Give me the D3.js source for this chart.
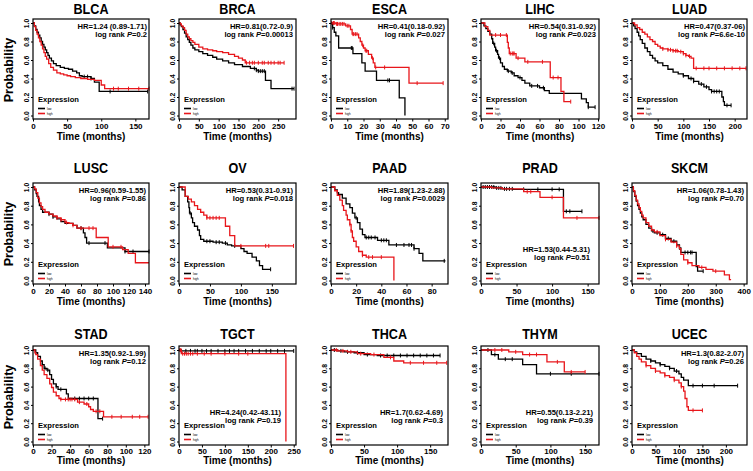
<!DOCTYPE html>
<html><head><meta charset="utf-8">
<script src="https://cdn.jsdelivr.net/npm/d3@7"></script>
<style>
html,body{margin:0;padding:0;background:#fff;}
svg text{font-family:"Liberation Sans",Arial,sans-serif;font-weight:bold;fill:#000;}
</style></head><body>
<svg id="c" width="753" height="471"></svg>
<script>
// ---------- DATA ----------
const names = ["BLCA","BRCA","ESCA","LIHC","LUAD","LUSC","OV","PAAD","PRAD","SKCM","STAD","TGCT","THCA","THYM","UCEC"];
const xMaxes = [170,295,72,121,224,145,189,93,166,412,125,255,177,170,245];
const xTickSets = [
  [0,50,100,150],[0,50,100,150,200,250],[0,10,20,30,40,50,60,70],[0,20,40,60,80,100,120],[0,50,100,150,200],
  [0,20,40,60,80,100,120,140],[0,50,100,150],[0,20,40,60,80],[0,50,100,150],[0,100,200,300,400],
  [0,20,40,60,80,100,120],[0,50,100,150,200,250],[0,50,100,150],[0,50,100,150],[0,50,100,150,200]];
const yTicks = [0,0.2,0.4,0.6,0.8,1.0];
const hrTexts = ["HR=1.24 (0.89-1.71)","HR=0.81(0.72-0.9)","HR=0.41(0.18-0.92)","HR=0.54(0.31-0.92)","HR=0.47(0.37-06)",
  "HR=0.96(0.59-1.55)","HR=0.53(0.31-0.91)","HR=1.89(1.23-2.88)","HR=1.53(0.44-5.31)","HR=1.06(0.78-1.43)",
  "HR=1.35(0.92-1.99)","HR=4.24(0.42-43.11)","HR=1.7(0.62-4.69)","HR=0.55(0.13-2.21)","HR=1.3(0.82-2.07)"];
const pTexts = ["0.2","0.00013","0.027","0.023","6.6e-10","0.86","0.018","0.0029","0.51","0.70","0.12","0.19","0.3","0.39","0.26"];
const hrAtBottom = [false,false,false,false,false,false,false,false,true,false,false,true,true,true,false];

// Kaplan-Meier curves: [time, survival] step points; censor times
const BLCA_low = [[0,1],[2,0.97],[4,0.93],[6,0.9],[8,0.87],[10,0.84],[12,0.8],[14,0.77],[16,0.74],[18,0.71],[20,0.68],[22,0.65],[24,0.62],[27,0.59],[30,0.56],[34,0.54],[40,0.52],[46,0.51],[52,0.5],[58,0.48],[64,0.46],[68,0.43],[72,0.42],[85,0.4],[90,0.36],[97,0.26],[168,0.26]];
const BLCA_high = [[0,1],[2,0.96],[4,0.92],[6,0.88],[8,0.84],[10,0.8],[12,0.76],[14,0.72],[16,0.68],[18,0.64],[20,0.61],[23,0.56],[26,0.52],[30,0.49],[35,0.46],[40,0.45],[45,0.44],[50,0.43],[55,0.42],[62,0.41],[70,0.4],[80,0.39],[90,0.38],[100,0.33],[105,0.29],[170,0.29]];
const BLCA_lowC = [75,80,85,113,168];
const BLCA_highC = [118,125,140,155,170];

const BRCA_low = [[0,1],[3,0.98],[6,0.96],[10,0.93],[14,0.89],[18,0.85],[22,0.82],[26,0.79],[30,0.76],[35,0.73],[40,0.71],[50,0.69],[60,0.67],[72,0.65],[85,0.63],[95,0.61],[110,0.59],[125,0.57],[140,0.55],[160,0.53],[180,0.51],[195,0.49],[200,0.48],[218,0.38],[232,0.29],[290,0.29]];
const BRCA_high = [[0,1],[3,0.99],[6,0.97],[10,0.95],[14,0.92],[18,0.88],[22,0.85],[26,0.83],[30,0.81],[35,0.79],[40,0.77],[50,0.74],[60,0.72],[72,0.71],[85,0.7],[95,0.69],[110,0.68],[125,0.66],[140,0.64],[150,0.62],[160,0.6],[167,0.57],[265,0.57]];
const BRCA_lowC = [190,195,200,205,210,215,285,290];
const BRCA_highC = [170,178,185,190,200,210,215,225,232,240,250,255,265];

const ESCA_low = [[0,1],[1,0.95],[2,0.9],[3,0.86],[4.7,0.73],[13.5,0.67],[19,0.57],[21,0.48],[28,0.38],[42,0.19],[45.5,0]];
const ESCA_high = [[0,1],[3,0.99],[9,0.97],[12,0.93],[13,0.88],[17,0.84],[18,0.8],[19,0.76],[20,0.73],[21,0.7],[23,0.66],[25,0.62],[26,0.57],[27,0.52],[48,0.35],[69,0.35]];
const ESCA_lowC = [1,12.5,13,35,36];
const ESCA_highC = [0.5,1.5,2,3.5,4,5,6,7,8,10,11,13.5,14,15,16,19.5,21.5,22,25.5,27.5,33,53,69];

const LIHC_low = [[0,1],[3,0.97],[5,0.94],[7,0.91],[9,0.88],[11,0.83],[12,0.78],[14,0.74],[15,0.7],[17,0.66],[18,0.62],[20,0.57],[22,0.53],[24,0.5],[27,0.48],[31,0.46],[34,0.43],[38,0.41],[42,0.38],[45,0.35],[50,0.32],[60,0.3],[65,0.27],[70,0.24],[103,0.18],[108,0.14],[110,0.09],[117,0.09]];
const LIHC_high = [[0,1],[4,0.96],[7,0.92],[9,0.87],[27,0.79],[28,0.73],[29,0.67],[36,0.62],[45,0.58],[71,0.41],[82,0.26],[85,0.15],[92,0.15]];
const LIHC_lowC = [13,16,19,28,32,40,52,58,64,110,117];
const LIHC_highC = [15,20,26,30,32,33,34,38,48,63,74,79,92];

const LUAD_low = [[0,1],[3,0.97],[6,0.94],[10,0.9],[13,0.86],[16,0.82],[20,0.78],[25,0.73],[30,0.69],[35,0.65],[40,0.62],[45,0.59],[50,0.57],[60,0.54],[70,0.5],[80,0.47],[90,0.45],[100,0.43],[110,0.4],[120,0.37],[130,0.34],[140,0.31],[150,0.28],[155,0.26],[175,0.2],[178,0.15],[180,0.11],[193,0.11]];
const LUAD_high = [[0,1],[5,0.98],[10,0.95],[15,0.93],[20,0.9],[25,0.88],[30,0.85],[35,0.82],[40,0.8],[45,0.77],[50,0.75],[55,0.73],[60,0.72],[70,0.71],[80,0.7],[90,0.69],[100,0.67],[105,0.65],[110,0.64],[115,0.62],[120,0.51],[222,0.51]];
const LUAD_lowC = [100,115,120,135,145,155,160,165,170,185,193];
const LUAD_highC = [60,70,75,80,85,88,95,100,105,112,125,140,150,165,180,195,210,222];

const LUSC_low = [[0,1],[2,0.97],[4,0.93],[5,0.9],[7,0.84],[8,0.8],[10,0.76],[12,0.73],[20,0.71],[25,0.68],[30,0.66],[35,0.63],[40,0.61],[50,0.59],[55,0.56],[63,0.51],[65,0.46],[67,0.4],[93,0.35],[115,0.31],[145,0.31]];
const LUSC_high = [[0,1],[2,0.98],[4,0.94],[6,0.88],[8,0.83],[10,0.79],[12,0.76],[15,0.73],[20,0.71],[25,0.69],[30,0.67],[35,0.65],[40,0.62],[45,0.61],[50,0.59],[55,0.56],[79,0.46],[94,0.36],[112,0.33],[119,0.29],[128,0.19],[145,0.19]];
const LUSC_lowC = [20,25,60,70,90,115,125,145];
const LUSC_highC = [30,35,42,50,60,70,75,100,110];

const OV_low = [[0,1],[5,0.97],[10,0.9],[14,0.84],[16,0.78],[17,0.72],[20,0.67],[22,0.62],[25,0.58],[30,0.54],[33,0.48],[35,0.44],[40,0.42],[55,0.41],[70,0.4],[78,0.38],[85,0.37],[100,0.34],[105,0.31],[110,0.29],[118,0.25],[125,0.21],[130,0.16],[135,0.12],[148,0.12]];
const OV_high = [[0,1],[10,0.9],[15,0.87],[20,0.84],[25,0.8],[30,0.76],[35,0.73],[40,0.7],[45,0.67],[75,0.58],[82,0.48],[90,0.37],[185,0.37]];
const OV_lowC = [18,45,50,60,65,75,90,148];
const OV_highC = [45,50,55,60,65,100,140,145,185];

const PAAD_low = [[0,1],[3,0.97],[5,0.94],[6,0.92],[9,0.88],[12,0.82],[15,0.78],[17,0.72],[19,0.67],[21,0.62],[23,0.55],[25,0.49],[27,0.46],[37,0.43],[46,0.38],[66,0.34],[70,0.29],[73,0.21],[91,0.21]];
const PAAD_high = [[0,1],[3,0.96],[5,0.91],[7,0.86],[9,0.8],[10,0.75],[12,0.7],[13,0.65],[15,0.6],[16,0.53],[17,0.46],[18,0.42],[20,0.36],[22,0.31],[25,0.27],[28,0.25],[50,0]];
const PAAD_lowC = [20,28,30,32,35,40,42,44,52,58,62,64,66,90];
const PAAD_highC = [15,16,25,30,33,40];

const PRAD_low = [[0,1],[20,0.99],[30,0.98],[45,0.975],[116,0.74],[142,0.74]];
const PRAD_high = [[0,1],[15,0.99],[30,0.98],[60,0.95],[83,0.89],[116,0.67],[166,0.67]];
const PRAD_lowC = [3,6,9,12,15,18,22,25,28,33,36,40,44,60,80,100,110,120,125,142];
const PRAD_highC = [65,70,100,135,166];

const SKCM_low = [[0,1],[5,0.95],[10,0.9],[15,0.85],[20,0.8],[25,0.76],[30,0.72],[35,0.68],[40,0.65],[50,0.6],[60,0.56],[70,0.53],[80,0.51],[100,0.49],[120,0.45],[140,0.42],[160,0.38],[170,0.35],[175,0.3],[230,0.15],[235,0.1],[255,0.1]];
const SKCM_high = [[0,1],[5,0.96],[10,0.91],[15,0.86],[20,0.82],[25,0.78],[30,0.74],[35,0.7],[40,0.67],[50,0.62],[60,0.58],[70,0.54],[80,0.52],[100,0.48],[120,0.44],[140,0.41],[160,0.37],[170,0.34],[175,0.28],[185,0.22],[200,0.19],[215,0.16],[240,0.14],[265,0.12],[290,0.1],[331,0.06],[349,0.01],[355,0.01]];
const SKCM_lowC = [75,90,110,130,150,170,190,200,210,215,255];
const SKCM_highC = [90,120,160,200,250,300];

const STAD_low = [[0,1],[3,0.97],[5,0.93],[8,0.88],[10,0.84],[12,0.8],[15,0.78],[18,0.73],[20,0.68],[22,0.63],[25,0.6],[27,0.57],[36,0.52],[38,0.47],[70,0.25],[75,0.25]];
const STAD_high = [[0,1],[2,0.97],[3,0.95],[5,0.9],[8,0.83],[10,0.78],[12,0.73],[15,0.69],[18,0.63],[20,0.59],[22,0.54],[25,0.5],[28,0.47],[30,0.46],[48,0.43],[55,0.41],[60,0.38],[62,0.35],[65,0.33],[76,0.27],[124,0.27]];
const STAD_lowC = [10,13,16,25,30,45,50,55,60,65,75];
const STAD_highC = [30,35,38,40,42,45,50,58,68,72,85,95,107,115,124];

const TGCT_low = [[0,1],[3,0.99],[250,0.99]];
const TGCT_high = [[0,1],[5,0.96],[233,0]];
const TGCT_lowC = [5,15,25,35,40,50,60,70,85,100,110,120,130,145,160,175,190,200,215,230,250];
const TGCT_highC = [2,4,8,12,16,20,25,30,40,55,70,100,130,150];

const THCA_low = [[0,1],[10,0.99],[20,0.98],[35,0.97],[50,0.95],[70,0.94],[165,0.94]];
const THCA_high = [[0,1],[10,0.99],[25,0.98],[40,0.96],[60,0.95],[80,0.92],[95,0.88],[110,0.86],[175,0.86]];
const THCA_lowC = [5,15,25,40,55,75,85,95,105,115,125,135,145,155,165];
const THCA_highC = [8,18,30,45,65,90,120,140,160,175];

const THYM_low = [[0,1],[15,0.95],[25,0.9],[60,0.84],[80,0.74],[170,0.74]];
const THYM_high = [[0,1],[40,0.98],[60,0.95],[95,0.87],[120,0.76],[150,0.76]];
const THYM_lowC = [10,20,35,45,100,130,170];
const THYM_highC = [20,30,50,70,80,110,130,150];

const UCEC_low = [[0,1],[5,0.98],[10,0.96],[20,0.93],[30,0.9],[40,0.88],[50,0.86],[60,0.84],[70,0.82],[80,0.8],[90,0.77],[100,0.74],[105,0.7],[110,0.67],[120,0.61],[225,0.61]];
const UCEC_high = [[0,1],[5,0.97],[10,0.93],[15,0.9],[20,0.87],[30,0.83],[40,0.8],[50,0.77],[60,0.75],[70,0.72],[80,0.7],[90,0.67],[100,0.64],[105,0.6],[110,0.55],[113,0.47],[117,0.38],[120,0.34],[150,0.34]];
const UCEC_lowC = [40,60,80,95,130,150,175,225];
const UCEC_highC = [30,50,70,90,105,130,150];

const curves = {
  BLCA:[BLCA_low,BLCA_high,BLCA_lowC,BLCA_highC], BRCA:[BRCA_low,BRCA_high,BRCA_lowC,BRCA_highC],
  ESCA:[ESCA_low,ESCA_high,ESCA_lowC,ESCA_highC], LIHC:[LIHC_low,LIHC_high,LIHC_lowC,LIHC_highC],
  LUAD:[LUAD_low,LUAD_high,LUAD_lowC,LUAD_highC], LUSC:[LUSC_low,LUSC_high,LUSC_lowC,LUSC_highC],
  OV:[OV_low,OV_high,OV_lowC,OV_highC], PAAD:[PAAD_low,PAAD_high,PAAD_lowC,PAAD_highC],
  PRAD:[PRAD_low,PRAD_high,PRAD_lowC,PRAD_highC], SKCM:[SKCM_low,SKCM_high,SKCM_lowC,SKCM_highC],
  STAD:[STAD_low,STAD_high,STAD_lowC,STAD_highC], TGCT:[TGCT_low,TGCT_high,TGCT_lowC,TGCT_highC],
  THCA:[THCA_low,THCA_high,THCA_lowC,THCA_highC], THYM:[THYM_low,THYM_high,THYM_lowC,THYM_highC],
  UCEC:[UCEC_low,UCEC_high,UCEC_lowC,UCEC_highC]};

// ---------- LAYOUT ----------
const colLefts = [33,179,331,481,632];
const colWidths = [116,117,117,118,115];
const rowTops = [19,183,346];
const rowBoxH = [100,101,99];
const rowTitleOff = [5,10,7];
const rowXLabelOff = [21,21,18.5];
const rowTickPad = [1.5,1.5,0.5];
const hrRightPad = [2,3,3,3,2, 3,3,3,9,3, 3,15,5,6,3];
const RED = "#e8161b";

const svg = d3.select("#c");

function valueAt(pts, t){ let v = pts[0][1]; for (const p of pts){ if (p[0] <= t) v = p[1]; } return v; }

names.forEach((nm, i) => {
  const col = i % 5, row = Math.floor(i/5);
  const boxH = rowBoxH[row];
  const L = colLefts[col], W = colWidths[col], T = rowTops[row], B = T + boxH;
  const x = d3.scaleLinear().domain([0, xMaxes[i]]).range([L, L + W]);
  const y = d3.scaleLinear().domain([0, 1]).range([B - 3.5, T + 4]);
  const g = svg.append("g");

  // title
  g.append("text").attr("transform", `translate(${L + W/2},${T - rowTitleOff[row]}) scale(0.84,1)`)
    .attr("text-anchor","middle").style("font-size","15px").text(nm);

  // x axis
  const xa = g.append("g").attr("transform", `translate(0,${B})`)
    .call(d3.axisBottom(x).tickValues(xTickSets[i]).tickSize(2.5).tickPadding(rowTickPad[row]).tickFormat(d3.format("d")));
  xa.select(".domain").remove();
  xa.selectAll("line").attr("stroke","#000").attr("stroke-width",1);
  xa.selectAll("text").style("font-size","8px").attr("font-family",null);

  // y axis
  const ya = g.append("g").attr("transform", `translate(${L},0)`)
    .call(d3.axisLeft(y).tickValues(yTicks).tickSize(2).tickFormat(d3.format(".1f")));
  ya.select(".domain").remove();
  ya.selectAll("line").attr("stroke","#000").attr("stroke-width",1);
  ya.selectAll("text").style("font-size","6.8px").attr("x",null).attr("dy",null)
    .attr("text-anchor","middle").attr("transform","translate(-4.5,0) rotate(-90)");

  // x label
  g.append("text").attr("x", L + W/2).attr("y", B + rowXLabelOff[row]).attr("text-anchor","middle")
    .style("font-size","10px").text("Time (months)");
  if (col === 0) {
    g.append("text").attr("transform", `translate(12.5,${T + 51}) rotate(-90)`).attr("text-anchor","middle")
      .style("font-size","12.5px").text("Probability");
  }

  // curves
  const [low, high, lowC, highC] = curves[nm];
  const line = d3.line().curve(d3.curveStepAfter).x(d => x(d[0])).y(d => y(d[1]));
  const plot = g.append("g");
  [[low, lowC, "#000"], [high, highC, RED]].forEach(([pts, cens, colr]) => {
    plot.append("path").datum(pts).attr("d", line).attr("fill","none").attr("stroke", colr).attr("stroke-width",1.3);
    plot.selectAll(null).data(cens).enter().append("line")
      .attr("x1", t => x(t)).attr("x2", t => x(t))
      .attr("y1", t => y(valueAt(pts, t)) - 2).attr("y2", t => y(valueAt(pts, t)) + 2)
      .attr("stroke", colr).attr("stroke-width", 1);
  });

  // box
  g.append("rect").attr("x", L).attr("y", T).attr("width", W).attr("height", boxH)
    .attr("fill","none").attr("stroke","#000").attr("stroke-width",1.2);

  // HR text
  const hy = hrAtBottom[i] ? T + 69 : T + 9.5;
  const hg = hrAtBottom[i] ? 7.5 : 8.5;
  const hx = L + W - hrRightPad[i];
  g.append("text").attr("x", hx).attr("y", hy).attr("text-anchor","end")
    .style("font-size","7.6px").text(hrTexts[i]);
  const pt = g.append("text").attr("x", hx).attr("y", hy + hg).attr("text-anchor","end").style("font-size","7.6px");
  pt.append("tspan").text("log rank ");
  pt.append("tspan").style("font-style","italic").text("P");
  pt.append("tspan").text("=" + pTexts[i]);

  // legend
  g.append("text").attr("x", L + 5).attr("y", B - 17.5).style("font-size","7.6px").text("Expression");
  [["low","#000",B - 10.5],["high",RED,B - 5.5]].forEach(([lab, colr, ly]) => {
    g.append("line").attr("x1", L + 5).attr("x2", L + 12).attr("y1", ly).attr("y2", ly)
      .attr("stroke", colr).attr("stroke-width", 1.6);
    g.append("text").attr("x", L + 14).attr("y", ly + 1).style("font-size","3px").style("font-weight","normal").text(lab);
  });
});
</script>
</body></html>
